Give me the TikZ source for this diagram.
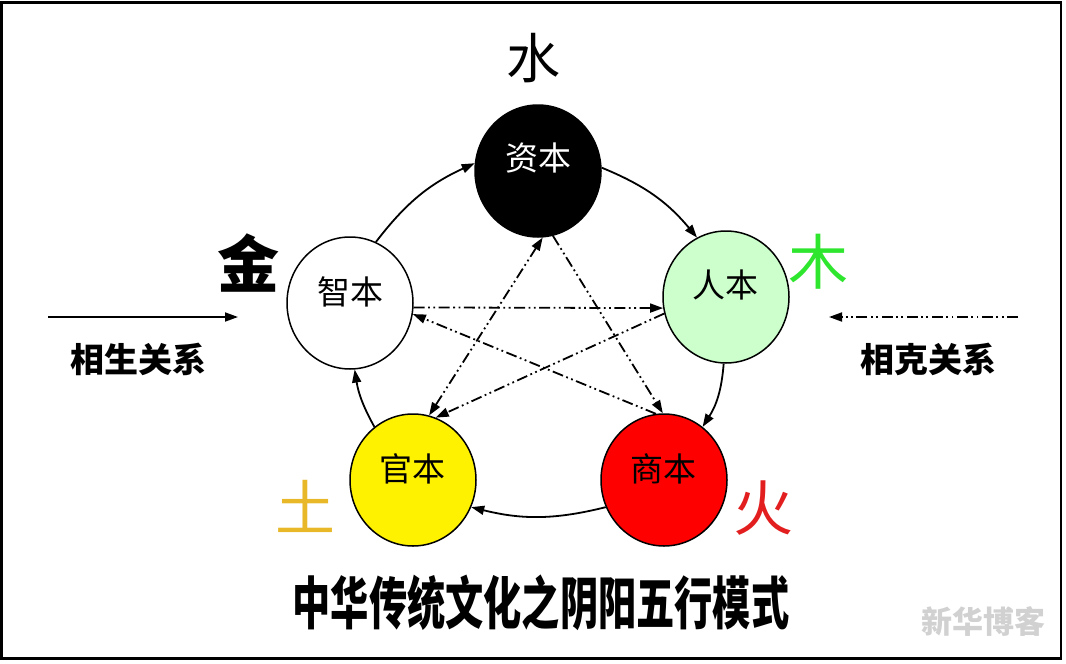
\documentclass[tikz,border=0pt]{standalone}
\usepackage{fontspec}
\setmainfont{Noto Sans CJK SC}
\newfontfamily\cjk{Noto Sans CJK SC}
\usetikzlibrary{arrows.meta,shapes.geometric}
\definecolor{rengreen}{HTML}{CCFFCC}
\definecolor{mugreen}{HTML}{2EE62E}
\definecolor{tugold}{HTML}{E8B828}
\definecolor{huored}{HTML}{E21E1E}
\tikzset{
  elem/.style={ellipse,draw=black,line width=1.5pt,minimum width=126pt,minimum height=132pt,inner sep=0pt},
  lbl/.style={font=\cjk\fontsize{33}{33}\selectfont,inner sep=0pt},
  big/.style={font=\cjk\fontsize{60}{60}\selectfont,inner sep=0pt},
  legend/.style={font=\cjk\bfseries\fontsize{34}{34}\selectfont,inner sep=0pt},
  sheng/.style={line width=1.8pt,-{Triangle[length=13pt,width=9pt]}},
  kepat/.style={line width=1.8pt,dash pattern=on 11pt off 3.5pt on 1.8pt off 3.5pt on 1.8pt off 3.5pt},
  ke/.style={kepat,-{Triangle[length=13pt,width=9pt]}},
  keboth/.style={kepat,{Triangle[length=13pt,width=9pt]}-{Triangle[length=13pt,width=9pt]}}
}
\begin{document}
\begin{tikzpicture}[x=1pt,y=-1pt]
\useasboundingbox (0,0) rectangle (1066,664);
\fill[white] (0,0) rectangle (1066,664);
\draw[line width=2.5pt] (1.5,2.5) rectangle (1061,658.5);

% element circles
\node[elem,fill=black] (zi) at (538,171) {};
\node[elem,fill=white] (zhi) at (350,303) {};
\node[elem,fill=rengreen] (ren) at (726,297) {};
\node[elem,fill=yellow] (guan) at (413,480) {};
\node[elem,fill=red] (shang) at (664,480) {};

\node[lbl,text=white] (zit) at (538,158) {资本};
\node[lbl] (zhit) at (350,292) {智本};
\node[lbl] (rent) at (725,285) {人本};
\node[lbl] (guant) at (412,469) {官本};
\node[lbl] (shangt) at (663,469) {商本};

% element characters
\node[big,font=\cjk\fontsize{54}{54}\selectfont] (shui) at (533,58) {水};
\node[big,font=\cjk\bfseries\fontsize{62}{62}\selectfont] (jin) at (248,263) {金};
\node[big,text=mugreen] (mu) at (818,262) {木};
\node[big,text=tugold] (tu) at (305,506) {土};
\node[big,text=huored] (huo) at (763,508) {火};

% generating cycle
\draw[sheng] (zhi.67) to[bend left=14] (zi.173);
\draw[sheng] (zi.3) to[bend left=14] (ren.116);
\draw[sheng] (ren.268) to[bend left=14] (shang.54);
\draw[sheng] (shang.205) to[bend left=14] (guan.335);
\draw[sheng] (guan.126) to[bend left=10] (zhi.274);

% restraining lines
\draw[ke] (zi.-77) -- (shang.91);
\draw[keboth] (guan.76) -- (zi.274);
\draw[ke] (zhi.-4) -- (ren.190);
\draw[ke] (ren.195) -- (guan.70);
\draw[ke] (shang.97) -- (zhi.-10);

% legend
\coordinate (sa) at (48,317);
\coordinate (sb) at (238,317);
\draw[sheng] (sa) -- (sb);
\node[legend] (shengt) at (138,359) {相生关系};
\coordinate (ka) at (1018,317);
\coordinate (kb) at (829,317);
\draw[ke] (ka) -- (kb);
\node[legend] (ket) at (928,359) {相克关系};

% title
\node[inner sep=0pt] (title) at (541,603) {\scalebox{0.67}[1]{\cjk\bfseries\fontsize{57}{57}\selectfont 中华传统文化之阴阳五行模式}};

% watermark
\node[inner sep=0pt,text=black!18,font=\cjk\bfseries\fontsize{31}{31}\selectfont] (wm) at (983,622) {新华博客};
\end{tikzpicture}
\end{document}
